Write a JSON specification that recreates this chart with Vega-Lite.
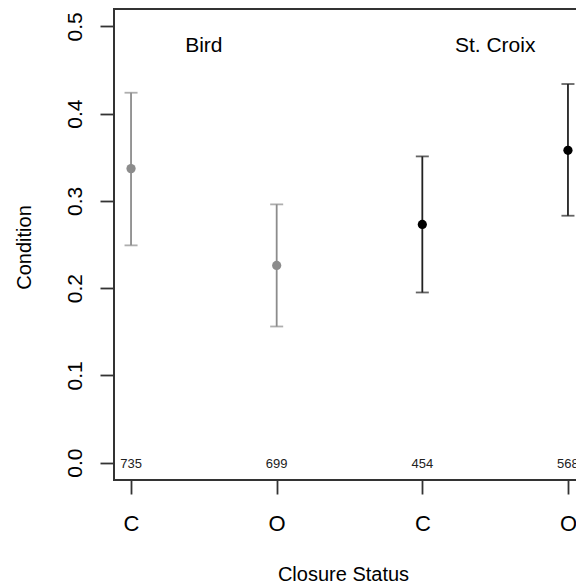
{
  "$schema": "https://vega.github.io/schema/vega-lite/v6.json",
  "autosize": {"type": "none"},
  "width": 471,
  "height": 471,
  "padding": {"left": 114, "top": 9, "right": -9, "bottom": 104},
  "background": "white",
  "config": {
    "font": "Liberation Sans",
    "view": {"stroke": "#333333", "strokeWidth": 2},
    "axis": {"grid": false, "domain": false, "labelColor": "#000000", "titleColor": "#000000", "titleFontWeight": "normal", "tickColor": "#333333", "tickWidth": 1.8, "labelFlush": false, "labelOverlap": false}
  },
  "datasets": {
    "pts": [
      {"pos": 1, "status": "C", "site": "Bird", "mean": 0.337, "lo": 0.249, "hi": 0.424},
      {"pos": 2, "status": "O", "site": "Bird", "mean": 0.226, "lo": 0.156, "hi": 0.296},
      {"pos": 3, "status": "C", "site": "St. Croix", "mean": 0.273, "lo": 0.195, "hi": 0.351},
      {"pos": 4, "status": "O", "site": "St. Croix", "mean": 0.358, "lo": 0.283, "hi": 0.434}
    ],
    "sites": [
      {"pos": 1.5, "y": 0.471, "label": "Bird"},
      {"pos": 3.5, "y": 0.471, "label": "St. Croix"}
    ],
    "counts": [
      {"pos": 1, "y": 0, "n": "735"},
      {"pos": 2, "y": 0, "n": "699"},
      {"pos": 3, "y": 0, "n": "454"},
      {"pos": 4, "y": 0, "n": "568"}
    ]
  },
  "layer": [
    {
      "data": {"name": "pts"},
      "mark": {"type": "errorbar", "ticks": {"size": 13, "thickness": 1.8}, "rule": {"strokeWidth": 1.8}},
      "encoding": {
        "x": {"field": "pos", "type": "quantitative", "scale": {"domain": [0.883, 4.117], "nice": false, "zero": false},
          "axis": {"values": [1, 2, 3, 4], "labelExpr": "datum.value == 1 || datum.value == 3 ? 'C' : 'O'", "tickSize": 14, "labelFontSize": 22, "labelBaseline": "alphabetic", "labelPadding": 36, "title": "Closure Status", "titleFontSize": 20, "titleX": 229, "titleY": 100, "titleBaseline": "alphabetic", "titleAlign": "center"}},
        "y": {"field": "lo", "type": "quantitative", "scale": {"domain": [-0.02, 0.52], "nice": false, "zero": false},
          "axis": {"values": [0, 0.1, 0.2, 0.3, 0.4, 0.5], "format": ".1f", "tickSize": 14, "labelFontSize": 21, "labelAngle": 270, "labelAlign": "center", "labelBaseline": "alphabetic", "labelPadding": 19, "title": "Condition", "titleFontSize": 20, "titleAngle": 270, "titleX": -84, "titleY": 238, "titleBaseline": "alphabetic", "titleAlign": "center"}},
        "y2": {"field": "hi"},
        "color": {"field": "site", "type": "nominal", "scale": {"domain": ["Bird", "St. Croix"], "range": ["#8c8c8c", "#222222"]}, "legend": null}
      }
    },
    {
      "data": {"name": "pts"},
      "mark": {"type": "point", "filled": true, "shape": "circle", "size": 85, "opacity": 1},
      "encoding": {
        "x": {"field": "pos", "type": "quantitative"},
        "y": {"field": "mean", "type": "quantitative"},
        "color": {"field": "site", "type": "nominal", "scale": {"domain": ["Bird", "St. Croix"], "range": ["#8c8c8c", "#000000"]}, "legend": null}
      }
    },
    {
      "data": {"name": "sites"},
      "mark": {"type": "text", "fontSize": 21, "baseline": "alphabetic", "align": "center", "color": "#000000"},
      "encoding": {
        "x": {"field": "pos", "type": "quantitative"},
        "y": {"field": "y", "type": "quantitative"},
        "text": {"field": "label"}
      }
    },
    {
      "data": {"name": "counts"},
      "mark": {"type": "text", "fontSize": 13, "baseline": "middle", "align": "center", "dy": 1, "color": "#222222"},
      "encoding": {
        "x": {"field": "pos", "type": "quantitative"},
        "y": {"field": "y", "type": "quantitative"},
        "text": {"field": "n"}
      }
    }
  ],
  "resolve": {"scale": {"color": "independent"}}
}
